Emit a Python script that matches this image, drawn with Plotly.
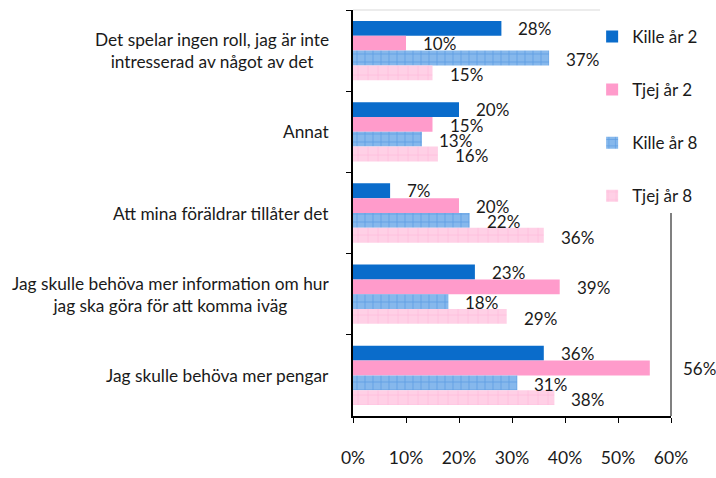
import plotly.graph_objects as go

categories = [
    "Det spelar ingen roll, jag är inte<br>intresserad av något av det",
    "Annat",
    "Att mina föräldrar tillåter det",
    "Jag skulle behöva mer information om hur<br>jag ska göra för att komma iväg",
    "Jag skulle behöva mer pengar",
]
series_names = ["Kille år 2", "Tjej år 2", "Kille år 8", "Tjej år 8"]
kille_ar2 = [0.28, 0.20, 0.07, 0.23, 0.36]
tjej_ar2 = [0.10, 0.15, 0.20, 0.39, 0.56]
kille_ar8 = [0.37, 0.13, 0.22, 0.18, 0.31]
tjej_ar8 = [0.15, 0.16, 0.36, 0.29, 0.38]
x_tick_values = [0, 0.1, 0.2, 0.3, 0.4, 0.5, 0.6]

series_values = [kille_ar2, tjej_ar2, kille_ar8, tjej_ar8]
colors = ["#0A6CCB", "#FF9BCB", "#86B8EC", "#FFD0E6"]
patterns = [
    dict(shape=""),
    dict(shape=""),
    dict(shape="+", fgcolor="#2F80D6", bgcolor="#86B8EC", size=8, solidity=0.18),
    dict(shape="+", fgcolor="#FF9ECD", bgcolor="#FFD0E6", size=10, solidity=0.12),
]

FONT = "Lato"
fig = go.Figure()
for i, (name, vals) in enumerate(zip(series_names, series_values)):
    fig.add_trace(go.Bar(
        y=categories, x=vals, name=name, orientation="h",
        marker=dict(color=colors[i], line=dict(width=0), pattern=patterns[i]),
        legendgroup=name,
    ))

# data labels
plot_h = 421
band = plot_h / len(categories)
bargap = 0.27
bar_px = band * (1 - bargap) / 4
annotations = []
for i, vals in enumerate(series_values):
    yshift = (1.5 - i) * bar_px
    for cat, v in zip(categories, vals):
        annotations.append(dict(
            x=v, y=cat, xref="x", yref="y", text=f"{round(v*100)}%",
            showarrow=False, xanchor="left", yanchor="middle",
            xshift=15 if v < 0.5 else 31, yshift=yshift - 1,
            font=dict(family=FONT, size=17, color="#1a1a1a"),
        ))
# category labels (centered multi-line)
for cat in categories:
    annotations.append(dict(
        x=0, y=cat, xref="paper", yref="y", text=cat, showarrow=False,
        xanchor="right", yanchor="middle", align="center", xshift=-22,
        font=dict(family=FONT, size=17.3, color="#1a1a1a"),
    ))

fig.update_layout(
    width=716, height=478,
    margin=dict(l=353, r=45, t=10, b=47),
    paper_bgcolor="white", plot_bgcolor="white",
    barmode="group", bargap=bargap, bargroupgap=0,
    font=dict(family=FONT, size=17, color="#1a1a1a"),
    annotations=annotations,
    legend=dict(
        x=0.752, xanchor="left", y=0.978, yanchor="top",
        traceorder="grouped", tracegroupgap=28,
        bgcolor="rgba(0,0,0,0)",
        font=dict(family=FONT, size=17, color="#1a1a1a"),
    ),
    shapes=[
        dict(type="line", xref="x domain", yref="y domain", x0=0, x1=0.777, y0=1, y1=1,
             line=dict(color="#D9D9D9", width=1)),
        dict(type="line", xref="x domain", yref="y domain", x0=1, x1=1, y0=0, y1=0.5,
             line=dict(color="#808080", width=2)),
    ],
)
fig.update_xaxes(
    range=[0, 0.6], tickvals=x_tick_values, tickformat=".0%",
    showline=True, linecolor="black", linewidth=1.5,
    ticks="outside", ticklen=5, tickcolor="black", tickwidth=1,
    showgrid=False, zeroline=False, ticklabelstandoff=20,
    tickfont=dict(family=FONT, size=17.5, color="#1a1a1a"),
)
fig.update_yaxes(
    autorange="reversed", showticklabels=False,
    showline=True, linecolor="black", linewidth=1.5,
    ticks="outside", ticklen=5, tickcolor="black", tickson="boundaries",
    showgrid=False, zeroline=False,
)
fig.write_html("out.html", config={"displayModeBar": False},
               post_script="document.body.style.margin='0';")
